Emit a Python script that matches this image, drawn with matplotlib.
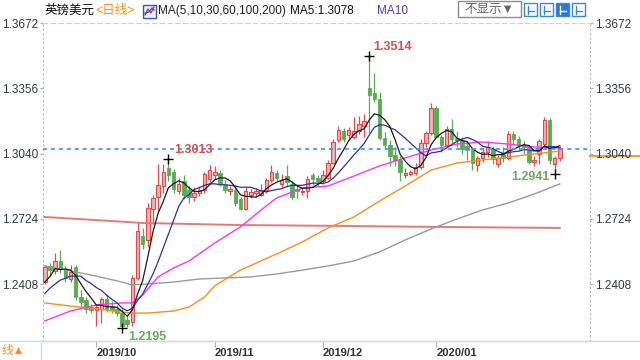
import numpy as np
import pandas as pd
import matplotlib
matplotlib.use('Agg')
import matplotlib.pyplot as plt
from matplotlib.patches import Rectangle
from matplotlib.lines import Line2D
from matplotlib.transforms import blended_transform_factory

plt.rcParams['font.family'] = ['Liberation Sans', 'Noto Sans CJK SC', 'DejaVu Sans']

# ---------------- data ----------------
opens = [1.2420,1.2495,1.2470,1.2520,1.2480,1.2435,1.2490,1.2345,1.2330,1.2295,
         1.2285,1.2290,1.2335,1.2300,1.2290,1.2268,1.2235,1.2225,1.2440,1.2640,
         1.2620,1.2770,1.2830,1.2885,1.2970,1.2950,1.2860,1.2905,1.2865,1.2830,
         1.2850,1.2865,1.2915,1.2935,1.2945,1.2890,1.2860,1.2865,1.2820,1.2770,
         1.2840,1.2850,1.2840,1.2865,1.2910,1.2945,1.2895,1.2930,1.2895,1.2870,
         1.2855,1.2860,1.2935,1.2920,1.2905,1.2920,1.2995,1.3106,1.3150,1.3130,
         1.3120,1.3150,1.3175,1.3357,1.3335,1.3305,1.3115,1.3080,1.3035,1.3010,
         1.2935,1.2940,1.2945,1.2975,1.3090,1.3140,1.3260,1.3120,1.3080,1.3160,
         1.3115,1.3105,1.3075,1.3060,1.2985,1.3020,1.3050,1.3060,1.2990,1.3045,
         1.3020,1.3135,1.3110,1.3080,1.3070,1.3000,1.3040,1.3085,1.3203,1.2990,
         1.3020]
highs = [1.2500,1.2510,1.2560,1.2575,1.2495,1.2500,1.2500,1.2380,1.2345,1.2310,
         1.2310,1.2345,1.2360,1.2325,1.2305,1.2290,1.2260,1.2450,1.2708,1.2680,
         1.2800,1.2840,1.2990,1.2990,1.3013,1.2965,1.2920,1.2935,1.2885,1.2880,
         1.2885,1.2950,1.2985,1.2980,1.2960,1.2910,1.2885,1.2890,1.2830,1.2880,
         1.2870,1.2875,1.2895,1.2920,1.2985,1.2960,1.2940,1.2985,1.2905,1.2890,
         1.2880,1.2930,1.2945,1.2935,1.2960,1.3010,1.3110,1.3175,1.3165,1.3170,
         1.3215,1.3220,1.3230,1.3514,1.3430,1.3340,1.3145,1.3105,1.3070,1.3030,
         1.2970,1.2960,1.2995,1.3110,1.3150,1.3285,1.3270,1.3130,1.3175,1.3205,
         1.3150,1.3120,1.3090,1.3070,1.3030,1.3065,1.3100,1.3075,1.3035,1.3070,
         1.3150,1.3150,1.3125,1.3100,1.3080,1.3030,1.3110,1.3215,1.3212,1.3030,
         1.3075]
lows = [1.2410,1.2445,1.2455,1.2460,1.2420,1.2420,1.2330,1.2290,1.2270,1.2270,
        1.2206,1.2220,1.2275,1.2270,1.2255,1.2195,1.2200,1.2205,1.2430,1.2580,
        1.2590,1.2700,1.2760,1.2850,1.2905,1.2850,1.2845,1.2820,1.2800,1.2810,
        1.2835,1.2850,1.2900,1.2915,1.2885,1.2850,1.2840,1.2785,1.2765,1.2765,
        1.2825,1.2830,1.2835,1.2850,1.2900,1.2905,1.2880,1.2880,1.2820,1.2825,
        1.2840,1.2825,1.2890,1.2885,1.2895,1.2915,1.2990,1.3095,1.3095,1.3110,
        1.3110,1.3135,1.3120,1.3140,1.3290,1.3105,1.3065,1.2980,1.2980,1.2905,
        1.2920,1.2930,1.2935,1.2965,1.3070,1.3130,1.3115,1.3050,1.3070,1.3090,
        1.3070,1.3040,1.3010,1.2960,1.2955,1.3000,1.3025,1.2990,1.2975,1.3000,
        1.3010,1.3080,1.3055,1.3040,1.2990,1.2980,1.2990,1.3075,1.2990,1.2941,
        1.3005]
closes = [1.2490,1.2475,1.2520,1.2480,1.2440,1.2465,1.2345,1.2320,1.2290,1.2285,
          1.2296,1.2335,1.2290,1.2285,1.2270,1.2205,1.2215,1.2440,1.2665,1.2600,
          1.2775,1.2825,1.2890,1.2950,1.2935,1.2870,1.2895,1.2840,1.2830,1.2850,
          1.2865,1.2940,1.2960,1.2950,1.2895,1.2865,1.2870,1.2800,1.2770,1.2860,
          1.2855,1.2860,1.2865,1.2910,1.2950,1.2920,1.2910,1.2900,1.2830,1.2860,
          1.2860,1.2915,1.2915,1.2905,1.2935,1.2995,1.3096,1.3154,1.3110,1.3155,
          1.3150,1.3185,1.3200,1.3323,1.3305,1.3115,1.3080,1.3030,1.3010,1.2950,
          1.2945,1.2950,1.2975,1.3090,1.3140,1.3260,1.3120,1.3080,1.3160,1.3110,
          1.3105,1.3060,1.3055,1.2995,1.3020,1.3050,1.3070,1.3015,1.3020,1.3020,
          1.3135,1.3110,1.3080,1.3070,1.3000,1.3010,1.3100,1.3203,1.3009,1.3018,
          1.3060]
prior_closes = [1.2220,1.2320,1.2290,1.2350,1.2360,1.2340,1.2330,1.2500,1.2430]

ma30_idx = [0,5,10,15,17,19,22,25,28,33,38,42,45,50,55,60,65,70,75,80,85,90,95,100]
ma30_val = [1.2230,1.2278,1.2307,1.2317,1.2317,1.2355,1.2443,1.2486,1.2520,1.2607,1.2685,1.2767,
            1.2825,1.2873,1.2883,1.2931,1.2980,1.3019,1.3057,1.3086,1.3096,1.3086,1.3072,1.3067]
ma60_idx = [0,5,10,15,17,20,25,28,31,33,38,45,50,55,60,65,70,75,80,85,90,95,100]
ma60_val = [1.2317,1.2302,1.2288,1.2273,1.2268,1.2268,1.2278,1.2297,1.2345,1.2400,1.2476,1.2554,
            1.2612,1.2680,1.2733,1.2810,1.2883,1.2960,1.2994,1.3009,1.3023,1.3038,1.3052]
ma100_idx = [0,5,10,15,17,20,25,30,35,40,45,50,55,60,65,70,75,80,85,90,95,100]
ma100_val = [1.2496,1.2472,1.2447,1.2418,1.2404,1.2409,1.2418,1.2433,1.2438,1.2443,1.2457,
             1.2476,1.2496,1.2520,1.2564,1.2622,1.2675,1.2723,1.2767,1.2801,1.2844,1.2893]
ma200_idx = [0,10,19,38,57,76,100]
ma200_val = [1.2733,1.2718,1.2704,1.2694,1.2690,1.2685,1.2680]

yticks = [1.2408, 1.2724, 1.3040, 1.3356, 1.3672]
xtick_pos = [10, 33, 54, 76]
xtick_labels = ['2019/10', '2019/11', '2019/12', '2020/01']
ma5_text = '1.3078'

# ---------------- figure ----------------
W, H = 640, 360
fig = plt.figure(figsize=(6.4, 3.6), dpi=100)
fig.patch.set_facecolor('white')

def fx(x):
    return x / W

def fy(y):
    return 1 - y / H

ax = fig.add_axes([fx(43), fy(341), (590 - 43) / W, (341 - 23) / H])
ax.set_facecolor('white')
n = len(closes)
x = np.arange(n)
ax.set_xlim(-0.35, 105.86)
ax.set_ylim(1.21328, 1.3672)

o = np.array(opens); h = np.array(highs); l = np.array(lows); c = np.array(closes)
up = c >= o
red_edge, red_face = '#e04a4a', '#f5b0b0'
green = '#5aab52'
wick_cols = [red_edge if u else green for u in up]
ax.vlines(x, l, h, colors=wick_cols, lw=0.9, zorder=2)
bottoms = np.minimum(o, c)
heights = np.maximum(np.abs(c - o), 0.00035)
ax.bar(x[up], heights[up], bottom=bottoms[up], width=0.68,
       facecolor=red_face, edgecolor=red_edge, lw=0.8, zorder=3)
ax.bar(x[~up], heights[~up], bottom=bottoms[~up], width=0.68,
       facecolor=green, edgecolor=green, lw=0.6, zorder=3)

allc = pd.Series(list(prior_closes) + list(closes))
ma5 = allc.rolling(5).mean().values[len(prior_closes):]
ma10 = allc.rolling(10).mean().values[len(prior_closes):]

ax.plot(ma200_idx, ma200_val, color='#e27b78', lw=1.4, zorder=4)
ax.plot(ma100_idx, ma100_val, color='#9a9a9a', lw=1.0, zorder=4)
ax.plot(ma60_idx, ma60_val, color='#ff8c1a', lw=1.0, zorder=4)
ax.plot(ma30_idx, ma30_val, color='#ff33ee', lw=1.0, zorder=4)
ax.plot(x, ma10, color='#2f2fa8', lw=0.9, zorder=5)
ax.plot(x, ma5, color='#1a1a1a', lw=0.9, zorder=6)

# current price line
ax.axhline(closes[-1], color='#3d9cff', lw=1.3, ls=(0, (2.2, 2.2)), zorder=7)
trans = blended_transform_factory(ax.transAxes, ax.transData)
ax.plot([1.0, (640 - 43) / 547], [1.3030, 1.3030], color='#ff9933', lw=1.5,
        transform=trans, clip_on=False, zorder=1)

# extreme markers
hi_i = int(np.argmax(h)); lo_i = int(np.argmin(l))
marks = [(hi_i, h[hi_i], (4, 3), 'left', 'bottom', '#e04a4a'),
         (24, h[24], (6, 3), 'left', 'bottom', '#e04a4a'),
         (lo_i, l[lo_i], (6, -3), 'left', 'top', '#6aab5c'),
         (99, l[99], (-5, 3), 'right', 'top', '#6aab5c')]
for i, v, off, ha, va, col in marks:
    ax.plot([i], [v], marker='+', ms=7, mew=1.0, color='black', zorder=8)
    ax.annotate(f'{v:.4f}', (i, v), xytext=off, textcoords='offset pixels',
                ha=ha, va=va, color=col, fontsize=9, fontweight='bold',
                annotation_clip=False, zorder=9)

# axes styling
ax.set_yticks(yticks)
ax.set_yticklabels([f'{t:.4f}' for t in yticks])
ax.tick_params(axis='y', left=True, right=True, labelleft=True, labelright=True,
               length=2, width=0.8, color='#b0b0b0', labelsize=8.5, labelcolor='#333a45', pad=1.5)
ax.set_xticks(xtick_pos)
ax.set_xticklabels(xtick_labels, ha='left', fontweight='bold', color='#333333')
ax.tick_params(axis='x', length=4, width=0.8, color='#b0b0b0', labelsize=8, pad=1)
for s in ['left', 'right']:
    ax.spines[s].set_linestyle((0, (1, 3)))
    ax.spines[s].set_color('#b8b8b8')
    ax.spines[s].set_linewidth(0.8)
ax.spines['top'].set_linestyle((0, (4, 3)))
ax.spines['top'].set_color('#d0d0d0')
ax.spines['top'].set_linewidth(0.8)
ax.spines['bottom'].set_color('#d3dae2')
ax.spines['bottom'].set_linewidth(1.0)

# frame lines of the panel
fig.add_artist(Line2D([0, 1], [fy(341), fy(341)], color='#d3dae2', lw=1.0))
fig.add_artist(Line2D([fx(41), fx(41)], [fy(341), 0], color='#d3dae2', lw=1.0))
fig.text(fx(1), fy(351), '线▲', color='#ff8a1e', fontsize=8.5, va='center', ha='left')

# header
hy = fy(11)
fig.text(fx(44), hy, '英镑美元', color='#111111', fontsize=9, va='center')
fig.text(fx(95), hy, '<日线>', color='#ff8a1e', fontsize=9, va='center')
fig.add_artist(Rectangle((fx(143), fy(18)), 13 / W, 13 / H, transform=fig.transFigure,
                         facecolor='#eef2ff', edgecolor='#3b55d0', lw=1.0))
fig.add_artist(Line2D([fx(145), fx(148), fx(151), fx(154)], [fy(15), fy(9), fy(13), fy(7)],
                      color='#e03a3a', lw=1.0))
fig.add_artist(Line2D([fx(145), fx(149), fx(152), fx(154)], [fy(13), fy(12), fy(8), fy(10)],
                      color='#3b55d0', lw=1.0))
fig.text(fx(158), hy, 'MA(5,10,30,60,100,200)', color='#222222', fontsize=8.5, va='center')
fig.text(fx(290), hy, 'MA5:' + ma5_text, color='#111111', fontsize=8.5, va='center')
fig.text(fx(377), hy, 'MA10', color='#4b3fc4', fontsize=8.5, va='center')

fig.add_artist(Rectangle((fx(458), fy(17)), 63 / W, 16 / H, transform=fig.transFigure,
                         facecolor='white', edgecolor='#8a8a8a', lw=1.0))
fig.text(fx(489.5), fy(9.5), '不显示▼', color='#666666', fontsize=9, va='center', ha='center')
for k, bx in enumerate([524, 540, 556, 572]):
    filled = (k == 2)
    fig.add_artist(Rectangle((fx(bx), fy(16)), 13 / W, 13 / H, transform=fig.transFigure,
                             facecolor='#2b78d0' if filled else 'white',
                             edgecolor='#3c86d8', lw=1.0))
    gc = 'white' if filled else '#3c86d8'
    fig.add_artist(Line2D([fx(bx + 4), fx(bx + 4)], [fy(6), fy(14)], color=gc, lw=1.0))
    fig.add_artist(Line2D([fx(bx + 4), fx(bx + 10)], [fy(11), fy(11)], color=gc, lw=1.0))

fig.savefig('out.png', dpi=100, facecolor='white')
